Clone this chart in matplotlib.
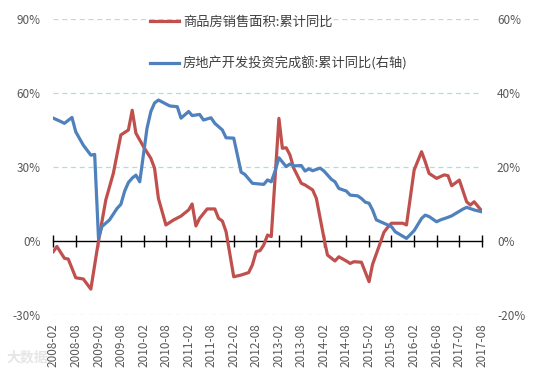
import matplotlib
matplotlib.use("Agg")
import matplotlib.pyplot as plt
import matplotlib.ticker as mticker
import matplotlib.dates as mdates
import pandas as pd

plt.rcParams['font.family'] = ['Noto Sans CJK SC', 'DejaVu Sans']

# 商品房销售面积:累计同比 (左轴, %)
sales_dates = ["2008-02", "2008-03", "2008-05", "2008-06", "2008-08", "2008-10", "2008-12",
               "2009-02", "2009-04", "2009-06", "2009-08", "2009-10", "2009-11", "2009-12",
               "2010-02", "2010-04", "2010-05", "2010-06", "2010-08", "2010-10", "2010-12",
               "2011-02", "2011-03", "2011-04", "2011-05", "2011-07", "2011-09", "2011-10",
               "2011-11", "2011-12", "2012-02", "2012-04", "2012-06", "2012-07", "2012-08",
               "2012-09", "2012-10", "2012-11", "2012-12", "2013-02", "2013-03", "2013-04",
               "2013-05", "2013-06", "2013-08", "2013-09", "2013-11", "2013-12", "2014-02",
               "2014-03", "2014-05", "2014-06", "2014-08", "2014-09", "2014-10", "2014-12",
               "2015-02", "2015-03", "2015-05", "2015-06", "2015-07", "2015-08", "2015-11",
               "2015-12", "2016-02", "2016-04", "2016-05", "2016-06", "2016-08", "2016-10",
               "2016-11", "2016-12", "2017-02", "2017-04", "2017-05", "2017-06", "2017-08"]
sales_yoy = [-4.3, -2.2, -7.0, -7.3, -14.9, -15.4, -19.5,
             0.0, 16.6, 27.4, 43.0, 45.0, 53.0, 43.7,
             38.2, 33.5, 29.5, 17.3, 6.5, 8.5, 10.1,
             12.6, 15.0, 6.1, 9.2, 13.0, 13.0, 9.2,
             8.1, 3.8, -14.5, -13.8, -12.8, -9.7, -4.3,
             -3.9, -1.6, 2.4, 1.8, 49.7, 37.6, 37.8,
             34.9, 29.5, 23.4, 22.7, 20.7, 17.3, 1.1,
             -5.7, -8.1, -6.4, -8.1, -9.1, -8.4, -8.6,
             -16.5, -9.5, -1.0, 3.5, 5.5, 7.2, 7.2,
             6.5, 28.8, 36.2, 32.1, 27.4, 25.4, 26.8,
             26.5, 22.4, 24.7, 15.9, 14.6, 15.9, 12.2]

# 房地产开发投资完成额:累计同比 (右轴, %)
invest_dates = ["2008-02", "2008-04", "2008-05", "2008-07", "2008-08", "2008-10", "2008-12",
                "2009-01", "2009-02", "2009-03", "2009-05", "2009-07", "2009-08", "2009-09",
                "2009-10", "2009-11", "2009-12", "2010-01", "2010-03", "2010-04", "2010-05",
                "2010-06", "2010-09", "2010-11", "2010-12", "2011-02", "2011-03", "2011-05",
                "2011-06", "2011-08", "2011-09", "2011-11", "2011-12", "2012-02", "2012-04",
                "2012-05", "2012-07", "2012-10", "2012-11", "2012-12", "2013-01", "2013-02",
                "2013-04", "2013-05", "2013-06", "2013-08", "2013-09", "2013-10", "2013-11",
                "2014-01", "2014-02", "2014-04", "2014-05", "2014-06", "2014-08", "2014-09",
                "2014-11", "2014-12", "2015-01", "2015-02", "2015-03", "2015-04", "2015-06",
                "2015-08", "2015-09", "2015-12", "2016-02", "2016-04", "2016-05", "2016-06",
                "2016-08", "2016-09", "2016-11", "2016-12", "2017-03", "2017-04", "2017-06",
                "2017-08"]
invest_yoy = [33.2, 32.3, 31.8, 33.4, 29.5, 25.9, 23.2,
              23.4, 0.7, 3.9, 5.7, 8.8, 9.9, 13.5,
              15.8, 17.0, 17.8, 16.0, 30.5, 35.0, 37.3,
              38.1, 36.5, 36.3, 33.2, 35.0, 33.9, 34.2,
              32.7, 33.3, 31.8, 30.0, 27.9, 27.8, 18.6,
              18.0, 15.6, 15.3, 16.5, 16.0, 18.9, 22.5,
              20.1, 20.8, 20.3, 20.4, 18.9, 19.5, 19.0,
              19.7, 18.9, 16.7, 16.0, 14.2, 13.5, 12.4,
              12.2, 11.5, 10.5, 10.2, 8.4, 5.7, 4.8,
              3.9, 2.5, 0.7, 2.8, 6.1, 7.0, 6.6,
              5.2, 5.7, 6.4, 6.8, 8.6, 9.1, 8.4,
              7.9]

left_ticks = [-30, 0, 30, 60, 90]
right_ticks = [-20, 0, 20, 40, 60]

red = '#c0504d'
blue = '#4f81bd'
label_color = '#595959'
grid_color = '#b7dadd'

sx = pd.to_datetime(sales_dates, format="%Y-%m")
ix = pd.to_datetime(invest_dates, format="%Y-%m")
xticks = pd.date_range("2008-02-01", "2017-08-01", freq="6MS")

fig = plt.figure(figsize=(5.33, 3.74), dpi=100)
ax = fig.add_axes([53.3 / 533, 59 / 374, (481.7 - 53.3) / 533, 296 / 374])
ax2 = ax.twinx()

l1, = ax.plot(sx, sales_yoy, color=red, lw=2.3, label='商品房销售面积:累计同比', solid_joinstyle='round')
l2, = ax2.plot(ix, invest_yoy, color=blue, lw=2.3, label='房地产开发投资完成额:累计同比(右轴)',
               solid_joinstyle='round')

ax.set_xlim(xticks[0], xticks[-1])
ax.set_ylim(-30, 90)
ax2.set_ylim(-20, 60)
ax.set_yticks(left_ticks)
ax2.set_yticks(right_ticks)
ax.yaxis.set_major_formatter(mticker.FuncFormatter(lambda v, p: f"{v:.0f}%"))
ax2.yaxis.set_major_formatter(mticker.FuncFormatter(lambda v, p: f"{v:.0f}%"))

for v in left_ticks:
    if v != 0:
        ax.axhline(v, color=grid_color, lw=0.9, ls=(0, (4, 3)), zorder=0)

for a in (ax, ax2):
    for s in a.spines.values():
        s.set_visible(False)

ax.tick_params(axis='y', length=0, pad=9, labelsize=8.5, labelcolor=label_color)
ax2.tick_params(axis='y', length=0, pad=11, labelsize=8.5, labelcolor=label_color)

ax.set_xticks(xticks)
ax.xaxis.set_major_formatter(mdates.DateFormatter("%Y-%m"))
ax.tick_params(axis='x', length=0, pad=6, labelsize=8.5, labelcolor=label_color, labelrotation=90)

# zero line with tick marks
zero_axis = ax.secondary_xaxis(30 / 120)
zero_axis.set_xticks(xticks)
zero_axis.set_xticklabels([])
zero_axis.tick_params(axis='x', direction='inout', length=8, width=1, color='black')
zero_axis.spines['bottom'].set_color('black')
zero_axis.spines['bottom'].set_linewidth(1)

leg = fig.legend([l1, l2], [l1.get_label(), l2.get_label()], loc='upper left',
                 bbox_to_anchor=(150 / 533, 1 - 16 / 374), frameon=False, fontsize=9.5,
                 handlelength=2.2, handletextpad=0.3, labelspacing=2.05,
                 borderpad=0, borderaxespad=0)
for t in leg.get_texts():
    t.set_color('#404040')

fig.text(0.012, 0.035, "大数据", color='#e6e6e6', fontsize=10, fontweight='bold')

fig.savefig("out.png", dpi=100)
